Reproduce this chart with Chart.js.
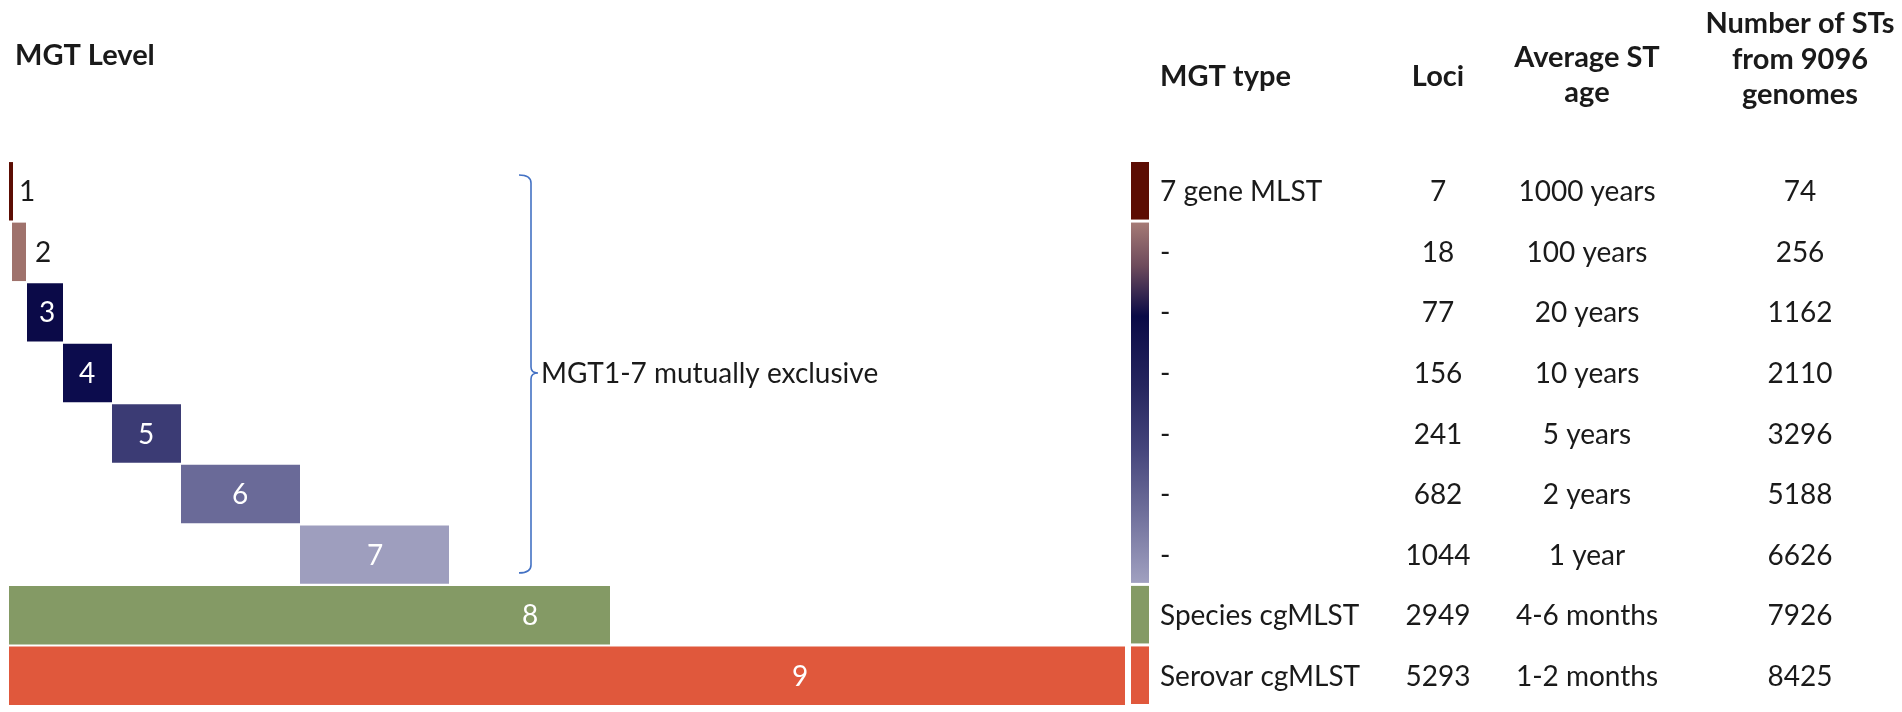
<!DOCTYPE html>
<html>
<head>
<meta charset="utf-8">
<script src="https://cdn.jsdelivr.net/npm/chart.js@4.4.0/dist/chart.umd.min.js"></script>
<style>
  html, body { margin: 0; padding: 0; background: #fff; }
  #wrap { position: relative; width: 1902px; height: 712px; }
</style>
</head>
<body>
<div id="wrap"><canvas id="mgtChart"></canvas></div>
<script>
// MGT levels, drawn as floating bars (x in px-like units from the left edge)
const levels = ["1", "2", "3", "4", "5", "6", "7", "8", "9"];
const barStart = [0, 3, 18, 54, 103, 172, 291, 0, 0];
const barEnd = [4, 17, 54, 103, 172, 291, 440, 601, 1116];
const labelAt = [18, 34, 38, 78, 137, 231, 366, 521, 791];
const barColors = ["#5C0D03", "#9F726C", "#0B0A48", "#0C0C4D", "#3B3B74", "#6A6A98", "#9E9EBE", "#849A65", "#E0583C"];
const labelColors = ["#1a1a1a", "#1a1a1a", "#fff", "#fff", "#fff", "#fff", "#fff", "#fff", "#fff"];

// table on the right
const mgtType = ["7 gene MLST", "-", "-", "-", "-", "-", "-", "Species cgMLST", "Serovar cgMLST"];
const loci = [7, 18, 77, 156, 241, 682, 1044, 2949, 5293];
const stAge = ["1000 years", "100 years", "20 years", "10 years", "5 years", "2 years", "1 year", "4-6 months", "1-2 months"];
const stCount = [74, 256, 1162, 2110, 3296, 5188, 6626, 7926, 8425];

const FONT = "Lato, 'Open Sans', sans-serif";
const TXT = "#1a1a1a";

// colour key strip + table + bracket
const tablePlugin = {
  id: "tablePlugin",
  afterDatasetsDraw(chart) {
    const ctx = chart.ctx;
    const x = chart.scales.x;
    const y = chart.scales.y;
    const step = y.getPixelForValue(1) - y.getPixelForValue(0);
    const top = i => y.getPixelForValue(i) - step / 2;
    const bot = i => y.getPixelForValue(i) + step / 2;

    ctx.save();

    // bar labels
    ctx.font = "28px " + FONT;
    ctx.textAlign = "center";
    ctx.textBaseline = "middle";
    levels.forEach((lv, i) => {
      ctx.fillStyle = labelColors[i];
      ctx.fillText(lv, x.getPixelForValue(labelAt[i]), y.getPixelForValue(i) + 1);
    });

    // colour key strip
    const sx0 = x.getPixelForValue(1122), sx1 = x.getPixelForValue(1140);
    ctx.fillStyle = barColors[0];
    ctx.fillRect(sx0, top(0) + 1, sx1 - sx0, step - 3);
    const g0 = top(1) + 1, g1 = bot(6) - 2;
    const grad = ctx.createLinearGradient(0, g0, 0, g1);
    grad.addColorStop(0, "#A57A75");
    grad.addColorStop(0.12, "#6E4B5C");
    grad.addColorStop(0.26, "#0A0A46");
    grad.addColorStop(0.45, "#25255E");
    grad.addColorStop(0.62, "#43437A");
    grad.addColorStop(0.8, "#6E6E9A");
    grad.addColorStop(1, "#A0A0C0");
    ctx.fillStyle = grad;
    ctx.fillRect(sx0, g0, sx1 - sx0, g1 - g0);
    ctx.fillStyle = barColors[7];
    ctx.fillRect(sx0, top(7) + 1, sx1 - sx0, step - 3);
    ctx.fillStyle = barColors[8];
    ctx.fillRect(sx0, top(8) + 1, sx1 - sx0, step - 3);

    // table body
    ctx.fillStyle = TXT;
    ctx.font = "28px " + FONT;
    levels.forEach((lv, i) => {
      const cy = y.getPixelForValue(i) + 1;
      ctx.textAlign = "left";
      ctx.fillText(mgtType[i], 1160, cy);
      ctx.textAlign = "center";
      ctx.fillText(String(loci[i]), 1438, cy);
      ctx.fillText(stAge[i], 1587, cy);
      ctx.fillText(String(stCount[i]), 1800, cy);
    });

    // headers
    ctx.font = "bold 29px " + FONT;
    ctx.textAlign = "left";
    ctx.fillText("MGT Level", 15, 56);
    ctx.fillText("MGT type", 1160, 77);
    ctx.textAlign = "center";
    ctx.fillText("Loci", 1438, 77);
    ctx.fillText("Average ST", 1587, 58);
    ctx.fillText("age", 1587, 93);
    ctx.fillText("Number of STs", 1800, 24);
    ctx.fillText("from 9096", 1800, 60);
    ctx.fillText("genomes", 1800, 95);

    // bracket over levels 1-7
    const bx0 = 519, bx1 = 531;
    const yT = top(0) + 14, yB = bot(6) - 12, yM = y.getPixelForValue(3);
    ctx.strokeStyle = "#4472C4";
    ctx.lineWidth = 1.6;
    ctx.beginPath();
    ctx.moveTo(bx0, yT);
    ctx.quadraticCurveTo(bx1, yT, bx1, yT + 8);
    ctx.lineTo(bx1, yM - 6);
    ctx.quadraticCurveTo(bx1, yM, bx1 + 7, yM);
    ctx.quadraticCurveTo(bx1, yM, bx1, yM + 6);
    ctx.lineTo(bx1, yB - 8);
    ctx.quadraticCurveTo(bx1, yB, bx0, yB);
    ctx.stroke();

    ctx.fillStyle = TXT;
    ctx.font = "28px " + FONT;
    ctx.textAlign = "left";
    ctx.fillText("MGT1-7 mutually exclusive", 541, yM + 1);

    ctx.restore();
  }
};

const canvas = document.getElementById("mgtChart");

new Chart(canvas, {
  type: "bar",
  data: {
    labels: levels,
    datasets: [{
      label: "MGT level",
      data: levels.map((_, i) => [barStart[i], barEnd[i]]),
      backgroundColor: barColors,
      borderWidth: 0,
      barPercentage: 0.965,
      categoryPercentage: 1
    }]
  },
  options: {
    indexAxis: "y",
    responsive: true,
    maintainAspectRatio: false,
    animation: false,
    layout: { padding: { left: 9, right: 0, top: 161, bottom: 6 } },
    plugins: {
      legend: { display: false },
      tooltip: { enabled: false }
    },
    scales: {
      x: { display: false, min: 0, max: 1893 },
      y: { display: false }
    }
  },
  plugins: [tablePlugin]
});
</script>
</body>
</html>
